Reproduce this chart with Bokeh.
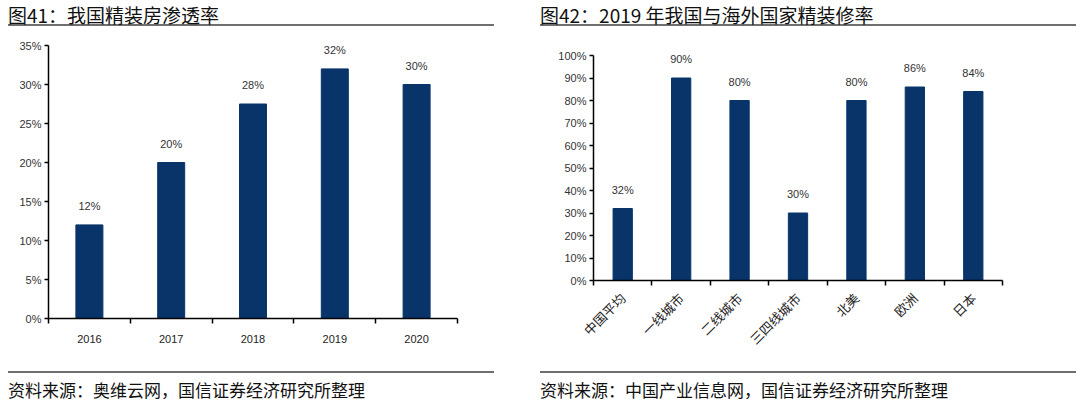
import math
from bokeh.plotting import figure
from bokeh.models import Div, Range1d, FixedTicker, ColumnDataSource, LabelSet
from bokeh.layouts import column, row
from bokeh.embed import file_html
from bokeh.resources import INLINE
from bokeh.core.properties import value

# ---- data ----
title1 = "图41：我国精装房渗透率"
source1 = "资料来源：奥维云网，国信证券经济研究所整理"
years = ["2016", "2017", "2018", "2019", "2020"]
rate1 = [12, 20, 27.5, 32, 30]
labels1 = ["12%", "20%", "28%", "32%", "30%"]
yticks1 = [0, 5, 10, 15, 20, 25, 30, 35]

title2 = "图42：2019 年我国与海外国家精装修率"
source2 = "资料来源：中国产业信息网，国信证券经济研究所整理"
regions = ["中国平均", "一线城市", "二线城市", "三四线城市", "北美", "欧洲", "日本"]
rate2 = [32, 90, 80, 30, 80, 86, 84]
labels2 = ["32%", "90%", "80%", "30%", "80%", "86%", "84%"]
yticks2 = [0, 10, 20, 30, 40, 50, 60, 70, 80, 90, 100]

BAR = "#08346a"
CJK = "Noto Sans CJK SC"
LAT = "Liberation Sans"


def bar_chart(cats, vals, labs, yticks, yend, borders, cat_font, cat_size, rotate):
    n = len(cats)
    xs = list(range(n))
    p = figure(width=532, height=328, x_range=Range1d(-0.5, n - 0.5),
               y_range=Range1d(0, yend), output_backend="svg",
               toolbar_location=None,
               min_border_left=borders[0], min_border_right=borders[1],
               min_border_top=borders[2], min_border_bottom=borders[3], margin=0)
    src = ColumnDataSource(dict(x=xs, top=vals, lab=labs))
    p.vbar(x="x", top="top", width=0.33, source=src, fill_color=BAR, line_color=BAR)
    p.add_layout(LabelSet(x="x", y="top", text="lab", source=src, text_align="center",
                          text_baseline="bottom", y_offset=13, text_font=value(LAT),
                          text_font_size=value("11px"), text_color=value("#333333")))
    p.grid.visible = False
    p.outline_line_color = None
    p.background_fill_color = "white"
    p.border_fill_color = "white"

    xa = p.xaxis[0]
    xa.ticker = FixedTicker(ticks=xs, minor_ticks=[i - 0.5 for i in range(n + 1)])
    xa.major_label_overrides = {i: c for i, c in enumerate(cats)}
    xa.major_tick_line_color = None
    xa.major_tick_in = 0
    xa.major_tick_out = 0
    xa.minor_tick_line_color = "black"
    xa.minor_tick_line_width = 1.5
    xa.minor_tick_in = 0
    xa.minor_tick_out = 5
    xa.axis_line_color = "black"
    xa.axis_line_width = 1.5
    xa.major_label_text_font = cat_font
    xa.major_label_text_font_size = cat_size
    xa.major_label_text_color = "#222222"
    if rotate:
        xa.major_label_orientation = math.pi / 4
        xa.major_label_standoff = 10
    else:
        xa.major_label_standoff = 11

    ya = p.yaxis[0]
    ya.ticker = FixedTicker(ticks=yticks, minor_ticks=[])
    ya.bounds = (0, yticks[-1])
    ya.major_label_overrides = {t: f"{t}%" for t in yticks}
    ya.major_tick_in = 0
    ya.major_tick_out = 4
    ya.major_tick_line_width = 1.5
    ya.major_tick_line_color = "black"
    ya.axis_line_color = "black"
    ya.axis_line_width = 1.5
    ya.major_label_text_font = LAT
    ya.major_label_text_font_size = "11px"
    ya.major_label_text_color = "#333333"
    ya.major_label_standoff = 3
    return p


def head(text, w, dw):
    return Div(text=(f'<div style="width:{w}px;height:22px;margin-top:4px;border-bottom:2px solid #6f6f6f;'
                     f'padding-bottom:6px;font-family:\'{CJK}\';font-size:19px;line-height:22px;'
                     f'color:#111;white-space:nowrap;">{text}</div>'),
               width=dw, height=37, margin=0)


def foot(text, w, dw):
    return Div(text=(f'<div style="width:{w}px;border-top:2px solid #6f6f6f;margin-top:6px;'
                     f'padding-top:6px;font-family:\'{CJK}\';font-size:17px;line-height:22px;'
                     f'color:#111;white-space:nowrap;">{text}</div>'),
               width=dw, height=40, margin=0)


# plot1: 0% at y=318, 35% at y=45 -> 7.8 px per %, frame top at 38
p1 = bar_chart(years, rate1, labels1, yticks1, 280 / 7.8, (40, 83, 1, 47), LAT, "11px", False)
# plot2: 0% at y=280, 100% at y=55 -> 2.25 px per %, frame top at 38
p2 = bar_chart(regions, rate2, labels2, yticks2, 242 / 2.25, (53, 70, 1, 85), CJK, "13px", True)

left = column(head(title1, 486, 532), p1, foot(source1, 486, 532), margin=(0, 0, 0, 8))
right = column(head(title2, 536, 538), p2, foot(source2, 536, 538), margin=0)
layout = row(left, right, margin=0)

open("out.html", "w").write(file_html(layout, INLINE))
